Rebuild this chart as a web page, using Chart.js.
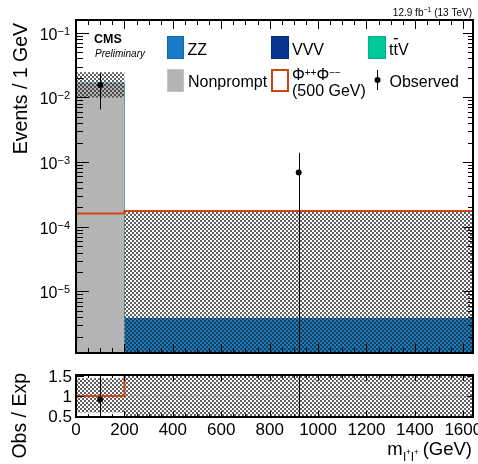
<!DOCTYPE html>
<html>
<head>
<meta charset="utf-8">
<script src="https://cdn.jsdelivr.net/npm/chart.js@4.4.1/dist/chart.umd.min.js"></script>
<style>
  html, body { margin: 0; padding: 0; background: #fff; }
  #wrap { position: relative; width: 478px; height: 464px; }
  #main { position: absolute; left: 0; top: 0; }
  #ratio { position: absolute; left: 0; top: 360px; }
</style>
</head>
<body>
<div id="wrap">
  <canvas id="main" width="478" height="360"></canvas>
  <canvas id="ratio" width="478" height="104"></canvas>
</div>
<script>
// histogram bins (GeV)
const binEdges = [0, 200, 1640];
const binCenters = [100, 920];

// backgrounds, events / 1 GeV
const nonprompt = [0.0166, 0];
const ttv = [0.00004, 0];
const vvv = [0.00001, 0];
const zz = [0.0002, 3.9e-6];
const bkgUp = [0.0245, 1.72e-4];
const bkgDown = [0.0100, 0];

// signal (500 GeV)
const signal = [1.61e-4, 1.75e-4];

// data
const observed = [0.0155, 6.93e-4];
const obsUp = [0.0235, 1.39e-3];
const obsDown = [0.0065, 0];

// ratio panel
const ratioBandUp = [1.44, 10];
const ratioBandDown = [0.59, -10];
const ratioSignal = [1.0, 45];
const ratioObs = [0.914, 180];
const ratioObsUp = [1.55, 400];
const ratioObsDown = [0.39, 0];

// ticks
const xTicks = [0, 200, 400, 600, 800, 1000, 1200, 1400, 1600];
const yPowers = [-1, -2, -3, -4, -5];
const ratioTicks = [0.5, 1, 1.5];

const FONT = "'Liberation Sans', Arial, Helvetica, sans-serif";
const C_ZZ = '#187dc9', C_VVV = '#0a3491', C_TTV = '#00c89a', C_NP = '#b4b4b4', C_SIG = '#d04315';
const FLOOR = 1e-9;

function font(size, style) { return (style ? style + ' ' : '') + size + 'px ' + FONT; }

// running sum of stacked components
function cum(arrs) { return arrs[0].map((_, i) => arrs.reduce((s, a) => s + a[i], 0)); }

// step points at the bin edges
function steps(vals, floor) {
  return binEdges.map((x, i) => ({ x: x, y: Math.max(vals[Math.min(i, vals.length - 1)], floor) }));
}

function hatch() {
  const c = document.createElement('canvas');
  c.width = 4; c.height = 4;
  const g = c.getContext('2d');
  g.fillStyle = 'rgba(35,35,35,0.72)';
  g.fillRect(0, 0, 2, 2);
  g.fillRect(2, 2, 2, 2);
  return g.createPattern(c, 'repeat');
}
const pattern = hatch();

// text made of several runs (superscripts etc.)
function runs(ctx, parts, x, y, align) {
  let w = 0;
  parts.forEach(p => { ctx.font = font(p[1], p[3]); w += ctx.measureText(p[0]).width; });
  let cx = align === 'right' ? x - w : align === 'center' ? x - w / 2 : x;
  ctx.textAlign = 'left';
  ctx.textBaseline = 'alphabetic';
  parts.forEach(p => {
    ctx.font = font(p[1], p[3]);
    ctx.fillText(p[0], cx, y + (p[2] || 0));
    cx += ctx.measureText(p[0]).width;
  });
  return w;
}

function errorBars(chart, xs, lo, hi) {
  const { ctx, chartArea: a, scales: { x, y } } = chart;
  ctx.save();
  ctx.beginPath();
  ctx.rect(a.left, a.top, a.right - a.left, a.bottom - a.top);
  ctx.clip();
  ctx.strokeStyle = '#000';
  ctx.lineWidth = 1;
  ctx.beginPath();
  xs.forEach((v, i) => {
    const px = Math.round(x.getPixelForValue(v)) + 0.5;
    ctx.moveTo(px, y.getPixelForValue(hi[i]));
    ctx.lineTo(px, y.getPixelForValue(lo[i]));
  });
  ctx.stroke();
  ctx.restore();
}

function xTickMarks(ctx, a, x, major, minor) {
  for (let v = 0; v <= x.max; v += 50) {
    const px = Math.round(x.getPixelForValue(v)) + 0.5;
    const len = v % 200 === 0 ? major : minor;
    ctx.moveTo(px, a.bottom); ctx.lineTo(px, a.bottom - len);
    ctx.moveTo(px, a.top); ctx.lineTo(px, a.top + len);
  }
}

function vTitle(ctx, text, x, y) {
  ctx.save();
  ctx.translate(x, y);
  ctx.rotate(-Math.PI / 2);
  ctx.font = font(19.5);
  ctx.textAlign = 'right';
  ctx.textBaseline = 'alphabetic';
  ctx.fillText(text, 0, 0);
  ctx.restore();
}

const mainDecor = {
  id: 'mainDecor',
  afterDatasetsDraw(chart) { errorBars(chart, binCenters, obsDown, obsUp); },
  afterDraw(chart) {
    const { ctx, chartArea: a, scales: { x, y } } = chart;
    ctx.save();
    ctx.strokeStyle = '#000';
    ctx.fillStyle = '#000';
    ctx.lineWidth = 1;
    ctx.beginPath();
    xTickMarks(ctx, a, x, 9, 5);
    for (let p = -7; p <= 0; p++) {
      for (let m = 1; m < 10; m++) {
        const v = m * Math.pow(10, p);
        if (v < y.min || v > y.max) continue;
        const py = Math.round(y.getPixelForValue(v)) + 0.5;
        ctx.moveTo(a.left, py); ctx.lineTo(a.left + (m === 1 ? 13 : 7), py);
        ctx.moveTo(a.right, py); ctx.lineTo(a.right - (m === 1 ? 10 : 5), py);
      }
    }
    ctx.stroke();
    ctx.lineWidth = 2;
    ctx.strokeRect(a.left, a.top, a.right - a.left, a.bottom - a.top);

    // y tick labels
    yPowers.forEach(p => {
      const py = y.getPixelForValue(Math.pow(10, p));
      runs(ctx, [['10', 16], ['\u2212' + (-p), 11, -5]], a.left - 6, py + 7, 'right');
    });

    vTitle(ctx, 'Events / 1 GeV', 27, 23);

    // CMS label and lumi
    runs(ctx, [['CMS', 12.5, 0, 'bold']], 94, 42.5, 'left');
    runs(ctx, [['Preliminary', 10, 0, 'italic']], 95, 56.5, 'left');
    runs(ctx, [['12.9 fb', 10], ['\u22121', 7, -4], [' (13 TeV)', 10]], 472, 16, 'right');

    // legend
    ctx.lineWidth = 1;
    const box = (bx, by, w, h, fill, edge) => {
      ctx.fillStyle = fill; ctx.fillRect(bx, by, w, h);
      ctx.strokeStyle = edge; ctx.strokeRect(bx + 0.5, by + 0.5, w - 1, h - 1);
    };
    box(167, 36, 17, 23, C_ZZ, '#1267a8');
    box(271, 36, 18, 23, C_VVV, '#082a78');
    box(368, 36, 18, 23, C_TTV, '#00b088');
    box(167, 69, 17, 23, C_NP, '#c4c4c4');
    ctx.strokeStyle = C_SIG; ctx.lineWidth = 2;
    ctx.strokeRect(272, 70, 16, 21);
    ctx.fillStyle = '#000';
    runs(ctx, [['ZZ', 16]], 187.5, 54.5, 'left');
    runs(ctx, [['VVV', 16]], 292, 54.5, 'left');
    ctx.font = font(16);
    ctx.textAlign = 'left';
    ctx.textBaseline = 'alphabetic';
    const tw = ctx.measureText('t').width;
    ctx.fillText('t', 389, 54.5);
    ctx.fillText('t', 389 + tw, 54.5);
    ctx.fillText('V', 389 + 2 * tw, 54.5);
    ctx.fillRect(389 + tw + 0.3, 38, tw - 0.3, 1.3);
    runs(ctx, [['Nonprompt', 16]], 188, 87, 'left');
    runs(ctx, [['\u03a6', 16], ['++', 10, -4], ['\u03a6', 16], ['\u2212\u2212', 10, -4]], 292, 79.5, 'left');
    runs(ctx, [['(500 GeV)', 16]], 292, 96, 'left');
    ctx.strokeStyle = '#000'; ctx.lineWidth = 1;
    ctx.beginPath(); ctx.moveTo(377.5, 70); ctx.lineTo(377.5, 90); ctx.stroke();
    ctx.beginPath(); ctx.arc(377.5, 80, 3, 0, Math.PI * 2); ctx.fill();
    runs(ctx, [['Observed', 16]], 389.5, 87, 'left');
    ctx.restore();
  }
};

const ratioDecor = {
  id: 'ratioDecor',
  afterDatasetsDraw(chart) { errorBars(chart, binCenters, ratioObsDown, ratioObsUp); },
  afterDraw(chart) {
    const { ctx, chartArea: a, scales: { x, y } } = chart;
    ctx.save();
    ctx.strokeStyle = '#000';
    ctx.fillStyle = '#000';
    ctx.lineWidth = 1;
    ctx.beginPath();
    xTickMarks(ctx, a, x, 6, 3);
    ratioTicks.forEach(v => {
      const py = Math.round(y.getPixelForValue(v)) + 0.5;
      ctx.moveTo(a.left, py); ctx.lineTo(a.left + 8, py);
      ctx.moveTo(a.right, py); ctx.lineTo(a.right - 6, py);
    });
    ctx.stroke();
    ctx.lineWidth = 2;
    ctx.strokeRect(a.left, a.top, a.right - a.left, a.bottom - a.top);

    ratioTicks.forEach(v => {
      runs(ctx, [[String(v), 17]], a.left - 4, y.getPixelForValue(v) + 6, 'right');
    });
    xTicks.forEach(v => {
      runs(ctx, [[String(v), 17]], x.getPixelForValue(v), 75, 'center');
    });

    vTitle(ctx, 'Obs / Exp', 26, 13);

    // x title m_{l+l+} (GeV)
    ctx.font = font(18.5);
    const wGeV = ctx.measureText('(GeV)').width;
    const gx = 472 - wGeV;
    runs(ctx, [['(GeV)', 18.5]], gx, 95, 'left');
    const sub = [['l', 12.5], ['+', 8.5, -6], ['l', 12.5], ['+', 8.5, -6]];
    let sw = 0;
    sub.forEach(p => { ctx.font = font(p[1]); sw += ctx.measureText(p[0]).width; });
    const sx = gx - 4 - sw;
    runs(ctx, sub, sx, 100.5, 'left');
    runs(ctx, [['m', 18.5]], sx - 0.5, 95, 'right');
    ctx.restore();
  }
};

const lvlNP = nonprompt;
const lvlTTV = cum([nonprompt, ttv]);
const lvlVVV = cum([nonprompt, ttv, vvv]);
const lvlZZ = cum([nonprompt, ttv, vvv, zz]);

const stepLine = (label, vals, floor, extra) => Object.assign({
  label: label, data: steps(vals, floor), stepped: true, pointRadius: 0,
  borderWidth: 0, borderColor: 'transparent', fill: false
}, extra);

const commonX = { type: 'linear', min: 0, max: 1640, display: false };

new Chart(document.getElementById('main'), {
  type: 'line',
  data: {
    datasets: [
      { label: 'Observed', data: binCenters.map((x, i) => ({ x: x, y: observed[i] })), showLine: false,
        pointRadius: 3, pointBackgroundColor: '#000', pointBorderWidth: 0, order: 0 },
      stepLine('\u03a6++\u03a6\u2212\u2212 (500 GeV)', signal, FLOOR, { borderColor: C_SIG, borderWidth: 2, order: 1 }),
      stepLine('unc', bkgUp, FLOOR, { fill: '+1', backgroundColor: pattern, order: 2 }),
      stepLine('uncLow', bkgDown, FLOOR, { order: 2 }),
      stepLine('Nonprompt', lvlNP, FLOOR, { fill: 'start', backgroundColor: C_NP, order: 3 }),
      stepLine('ttV', lvlTTV, FLOOR, { fill: 'start', backgroundColor: C_TTV, order: 4 }),
      stepLine('VVV', lvlVVV, FLOOR, { fill: 'start', backgroundColor: C_VVV, order: 5 }),
      stepLine('ZZ', lvlZZ, FLOOR, { fill: 'start', backgroundColor: C_ZZ, borderColor: 'rgba(24,125,201,0.22)', borderWidth: 1, order: 6 })
    ]
  },
  options: {
    responsive: false,
    animation: false,
    events: [],
    layout: { padding: { left: 76, right: 5, top: 20, bottom: 7 } },
    scales: {
      x: commonX,
      y: { type: 'logarithmic', min: 1.12e-6, max: 0.157, display: false }
    },
    plugins: { legend: { display: false }, tooltip: { enabled: false } }
  },
  plugins: [mainDecor]
});

new Chart(document.getElementById('ratio'), {
  type: 'line',
  data: {
    datasets: [
      { label: 'Obs / Exp', data: binCenters.map((x, i) => ({ x: x, y: ratioObs[i] })), showLine: false,
        pointRadius: 3, pointBackgroundColor: '#000', pointBorderWidth: 0, order: 0 },
      stepLine('signal ratio', ratioSignal, -Infinity, { borderColor: C_SIG, borderWidth: 2, order: 1 }),
      stepLine('unity', [1, 1], -Infinity, { borderColor: '#8a8a8a', borderWidth: 1, borderDash: [3, 3], order: 2 }),
      stepLine('unc', ratioBandUp, -Infinity, { fill: '+1', backgroundColor: pattern, order: 3 }),
      stepLine('uncLow', ratioBandDown, -Infinity, { order: 3 })
    ]
  },
  options: {
    responsive: false,
    animation: false,
    events: [],
    layout: { padding: { left: 76, right: 5, top: 15, bottom: 47 } },
    scales: {
      x: commonX,
      y: { type: 'linear', min: 0.48, max: 1.52, display: false }
    },
    plugins: { legend: { display: false }, tooltip: { enabled: false } }
  },
  plugins: [ratioDecor]
});
</script>
</body>
</html>
